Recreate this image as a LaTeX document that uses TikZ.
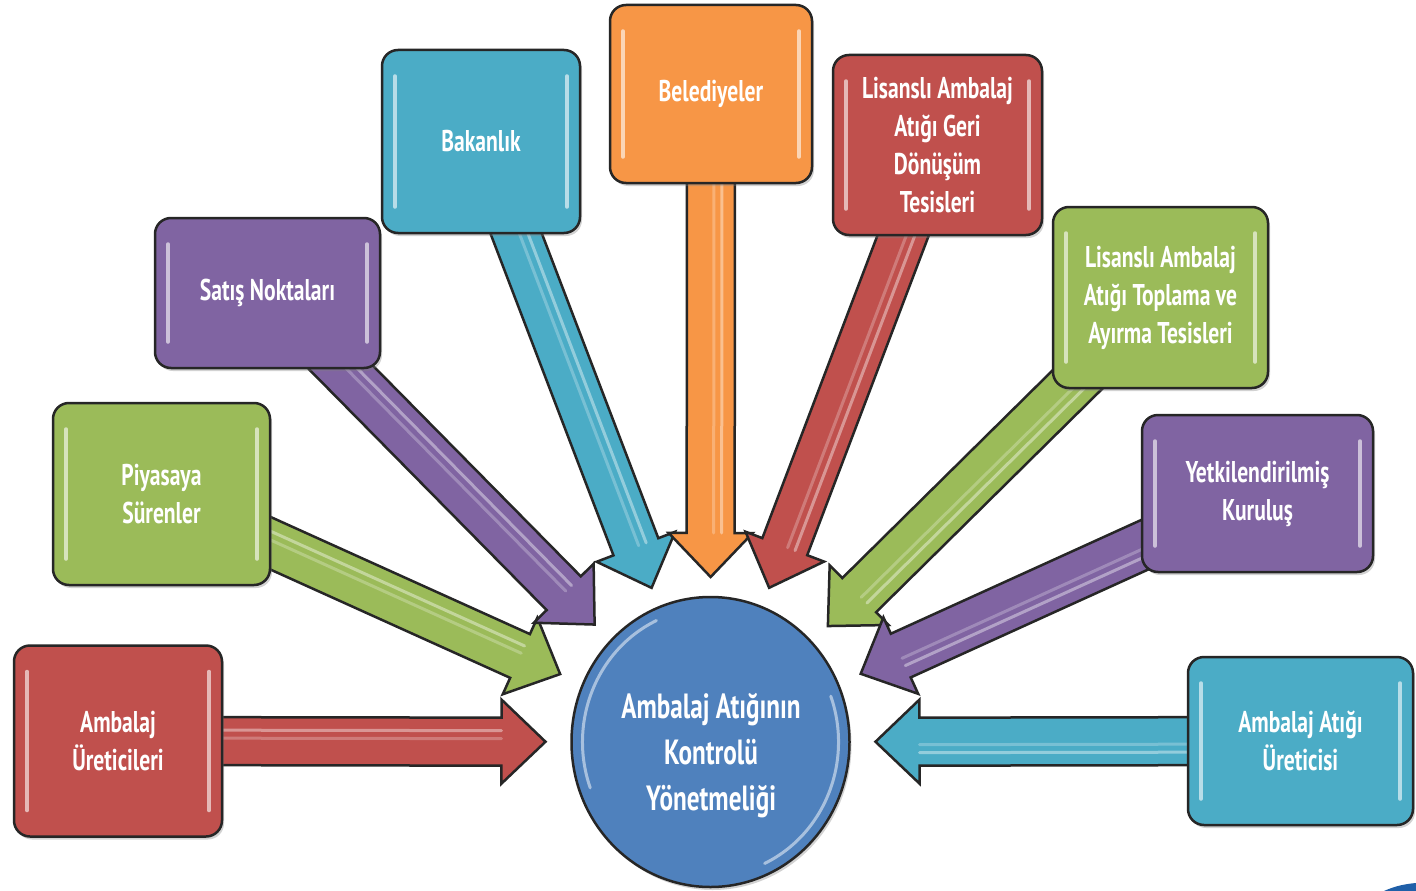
\documentclass[tikz,border=0pt]{standalone}
\usepackage{fontspec}
\setmainfont[FakeStretch=0.72,UprightFont={* Bold}]{PT Sans}
\usetikzlibrary{calc,shapes.geometric,shadows}
\pgfdeclarelayer{bg}
\pgfsetlayers{bg,main}
\definecolor{cred}{HTML}{C0504D}
\definecolor{cgreen}{HTML}{9BBB59}
\definecolor{cpurple}{HTML}{8064A2}
\definecolor{caqua}{HTML}{4BACC6}
\definecolor{corange}{HTML}{F79646}
\definecolor{cblue}{HTML}{4F81BD}
\definecolor{cswoosh}{HTML}{1F5FA8}
\newcommand\boxfont{\fontsize{30}{38}\selectfont}
\newcommand\circfont{\fontsize{35}{46}\selectfont}
\tikzset{
  box/.style={rounded corners=16pt, draw=black!85, line width=2.5pt, fill=#1,
    text=white, align=center, font=\boxfont, inner sep=0pt,
    drop shadow={shadow xshift=2pt, shadow yshift=-3pt, opacity=.35},
    path picture={
      \draw[sharp corners, white, opacity=.6, line width=3.5pt, line cap=round]
        ([xshift=13pt,yshift=-26pt]path picture bounding box.north west) --
        ([xshift=13pt,yshift=26pt]path picture bounding box.south west);
      \draw[sharp corners, white, opacity=.6, line width=3.5pt, line cap=round]
        ([xshift=-13pt,yshift=-26pt]path picture bounding box.north east) --
        ([xshift=-13pt,yshift=26pt]path picture bounding box.south east);
    }},
  arr/.style={draw=black!85, line width=2.5pt, line join=miter, fill=#1},
  stripe/.style={white, opacity=.4, line width=3pt, line cap=round}
}
% #1 source node, #2 colour
\newcommand\blockarrow[2]{%
  \path ($(C)!165pt!(#1)$) coordinate (#1-t)
        ($(#1-t)!44pt!(#1)$) coordinate (#1-b);
  \filldraw[arr=#2] ($(#1)!24pt!90:(#1-t)$) -- ($(#1-b)!24pt!90:(#1-t)$)
     -- ($(#1-b)!42pt!90:(#1-t)$) -- (#1-t) -- ($(#1-b)!42pt!-90:(#1-t)$)
     -- ($(#1-b)!24pt!-90:(#1-t)$) -- ($(#1)!24pt!-90:(#1-t)$) -- cycle;
  \draw[stripe] ($(#1)!11pt!90:(#1-t)$) -- ($(#1-b)!11pt!90:(#1-t)$);
  \draw[stripe, opacity=.25] ($(#1)!3pt!90:(#1-t)$) -- ($(#1-b)!3pt!90:(#1-t)$);
}
\begin{document}
\begin{tikzpicture}[x=1pt,y=-1pt]
\useasboundingbox (0,0) rectangle (1416,891);

\node[box=cred, minimum width=208pt, minimum height=191pt] (u) at (118,741) {Ambalaj\\Üreticileri};
\node[box=cgreen, minimum width=217pt, minimum height=182pt] (p) at (161.5,494) {Piyasaya\\Sürenler};
\node[box=cpurple, minimum width=225pt, minimum height=150pt] (s) at (267.5,293) {Satış Noktaları};
\node[box=caqua, minimum width=198pt, minimum height=183pt] (b) at (481,141.5) {Bakanlık};
\node[box=corange, minimum width=202pt, minimum height=178pt] (d) at (711,94) {Belediyeler};
\node[box=cred, minimum width=209pt, minimum height=180pt] (g) at (937.5,145) {Lisanslı Ambalaj\\Atığı Geri\\Dönüşüm\\Tesisleri};
\node[box=cgreen, minimum width=215pt, minimum height=181pt] (t) at (1160.5,297.5) {Lisanslı Ambalaj\\Atığı Toplama ve\\Ayırma Tesisleri};
\node[box=cpurple, minimum width=231pt, minimum height=157pt] (y) at (1257.5,493.5) {Yetkilendirilmiş\\Kuruluş};
\node[box=caqua, minimum width=225pt, minimum height=168pt] (a) at (1300.5,741) {Ambalaj Atığı\\Üreticisi};

\node[ellipse, draw=black!85, line width=2.5pt, fill=cblue, minimum width=278pt,
      minimum height=290pt, inner sep=0pt,
      drop shadow={shadow xshift=2pt, shadow yshift=-3pt, opacity=.35}] (C) at (710.5,742) {};
\draw[white, opacity=.5, line width=3pt, line cap=round]
  (C.center) ++(115:128pt and 134pt) arc[start angle=115, end angle=200, x radius=128pt, y radius=134pt];
\draw[white, opacity=.5, line width=3pt, line cap=round]
  (C.center) ++(295:128pt and 134pt) arc[start angle=295, end angle=380, x radius=128pt, y radius=134pt];
\node[text=white, font=\circfont, align=center] (Ct) at (711,756) {Ambalaj Atığının\\Kontrolü\\Yönetmeliği};

\begin{pgfonlayer}{bg}
\fill[white] (0,0) rectangle (1416,891);
\blockarrow{u}{cred}
\blockarrow{p}{cgreen}
\blockarrow{s}{cpurple}
\blockarrow{b}{caqua}
\blockarrow{d}{corange}
\blockarrow{g}{cred}
\blockarrow{t}{cgreen}
\blockarrow{y}{cpurple}
\blockarrow{a}{caqua}
\end{pgfonlayer}

\fill[cswoosh] (1384,891) .. controls (1395,886) and (1405,884) .. (1416,883) -- (1416,891) -- cycle;
\end{tikzpicture}
\end{document}
